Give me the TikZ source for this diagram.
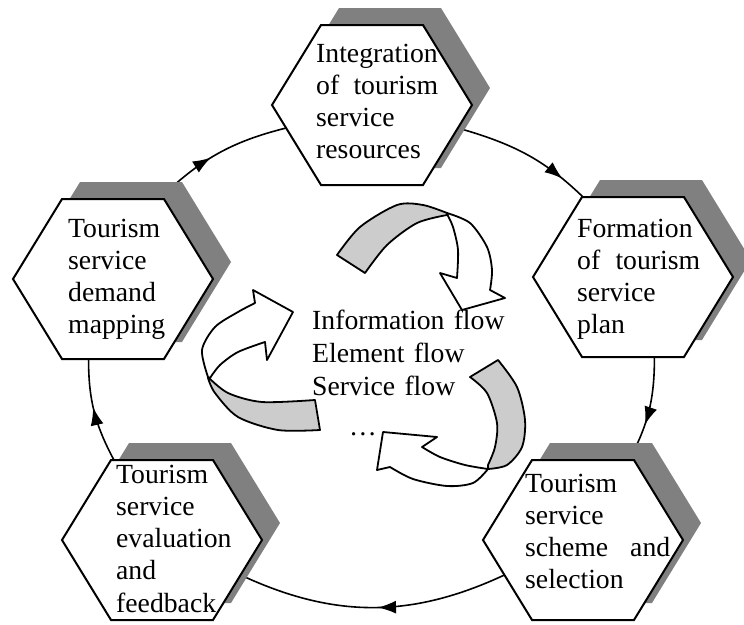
\documentclass[tikz,border=0pt]{standalone}
\usepackage{fontspec}
\setmainfont{Liberation Serif}
\usetikzlibrary{shapes.symbols,shadows,arrows.meta,decorations.markings,backgrounds}
\definecolor{shadegray}{RGB}{128,128,128}
\definecolor{bandgray}{RGB}{204,204,204}

\begin{document}
\begin{tikzpicture}[x=1pt,y=-1pt,
  hexagon/.style={signal, signal to=east and west, signal pointer angle=117,
    minimum width=200pt, minimum height=160pt, inner sep=0pt, outer sep=0pt,
    draw=black, line width=2pt, fill=white,
    drop shadow={shadow xshift=18pt, shadow yshift=17pt, fill=shadegray, draw=none, opacity=1}},
  hextext/.style={anchor=base west, align=left, inner sep=0pt,
    font=\fontsize{27.7}{32.3}\selectfont},
  ring/.style={line width=1.6pt, decoration={markings,
    mark=at position #1 with {\arrow{Latex[length=18pt,width=13pt]}}},
    postaction=decorate},
  band/.style={fill=bandgray, draw=black, line width=1.8pt, line join=round},
  sheet/.style={fill=white, draw=black, line width=1.8pt, line join=round}]
\useasboundingbox (0,0) rectangle (744,624);

\node[hexagon] (resources) at (372,105) {};
\node[hexagon] (plan) at (633,277) {};
\node[hexagon] (scheme) at (583,540) {};
\node[hexagon] (feedback) at (162,540) {};
\node[hexagon] (demand) at (113,279) {};

\node[hextext, text width=122pt] (resources-label) at (316,62) {Integration\\of\hfill tourism\\service\\resources};
\node[hextext, text width=123pt] (plan-label) at (577,237) {Formation\\of\hfill tourism\\service\\plan};
\node[hextext, text width=145pt] (scheme-label) at (525,492) {Tourism\\service\\scheme\hfill and\\selection};
\node[hextext, text width=125pt] (feedback-label) at (116,483) {Tourism\\service\\evaluation\\and\\feedback};
\node[hextext, text width=105pt] (demand-label) at (68,237) {Tourism\\service\\demand\\mapping};

\begin{scope}[on background layer]
\draw[ring=0.81] (resources.-15) to[out=-16, in=136] (plan.122);
\draw[ring=0.64] (plan.-75) to[out=-90, in=62] (scheme.60);
\draw[ring=0.48] (scheme.204) to[out=205, in=-25] (feedback.-24);
\draw[ring=0.54] (feedback.121) to[out=118, in=270] (demand.253);
\draw[ring=0.45] (demand.60) to[out=44, in=194] (resources.195);
\end{scope}

\filldraw[band] plot[smooth] coordinates {(337,255) (360,227) (397,205) (423,205) (447,213)}
  -- plot[smooth] coordinates {(447,215) (417,223) (387,245) (365,273)} -- cycle;
\filldraw[sheet] plot[smooth] coordinates {(447,213) (470,223) (487,247) (492,270) (490,290)}
  -- (505,298) -- (462,310) -- (440,273)
  -- plot[smooth] coordinates {(457,278) (458,250) (453,227) (447,214)} -- cycle;

\filldraw[band] plot[smooth] coordinates {(208,377) (228,393) (262,402) (315,400)}
  -- plot[smooth] coordinates {(320,430) (278,430) (238,417) (215,393) (208,378)} -- cycle;
\filldraw[sheet] plot[smooth] coordinates {(208,377) (202,350) (215,327) (238,312) (255,303)}
  -- (253,290) -- (293,312) -- (267,360)
  -- plot[smooth] coordinates {(265,342) (238,352) (220,365) (210,378)} -- cycle;

\filldraw[band] (470,377) -- plot[smooth] coordinates {(498,360) (517,387) (525,420) (522,447) (507,465) (488,469)}
  -- plot[smooth] coordinates {(488,465) (495,447) (497,423) (487,393) (470,377)} -- cycle;
\filldraw[sheet] plot[smooth] coordinates {(488,469) (473,483) (447,486) (413,479) (390,467)}
  -- (377,470) -- (383,432) -- (437,437)
  -- plot[smooth] coordinates {(422,447) (440,457) (465,465) (488,469)} -- cycle;

\node[hextext, text width=200pt, font=\fontsize{27.7}{33.3}\selectfont] (flows) at (312,329)
  {Information flow\\Element flow\\Service flow};
\node[hextext] (more) at (349,435) {\dots};
\end{tikzpicture}
\end{document}
